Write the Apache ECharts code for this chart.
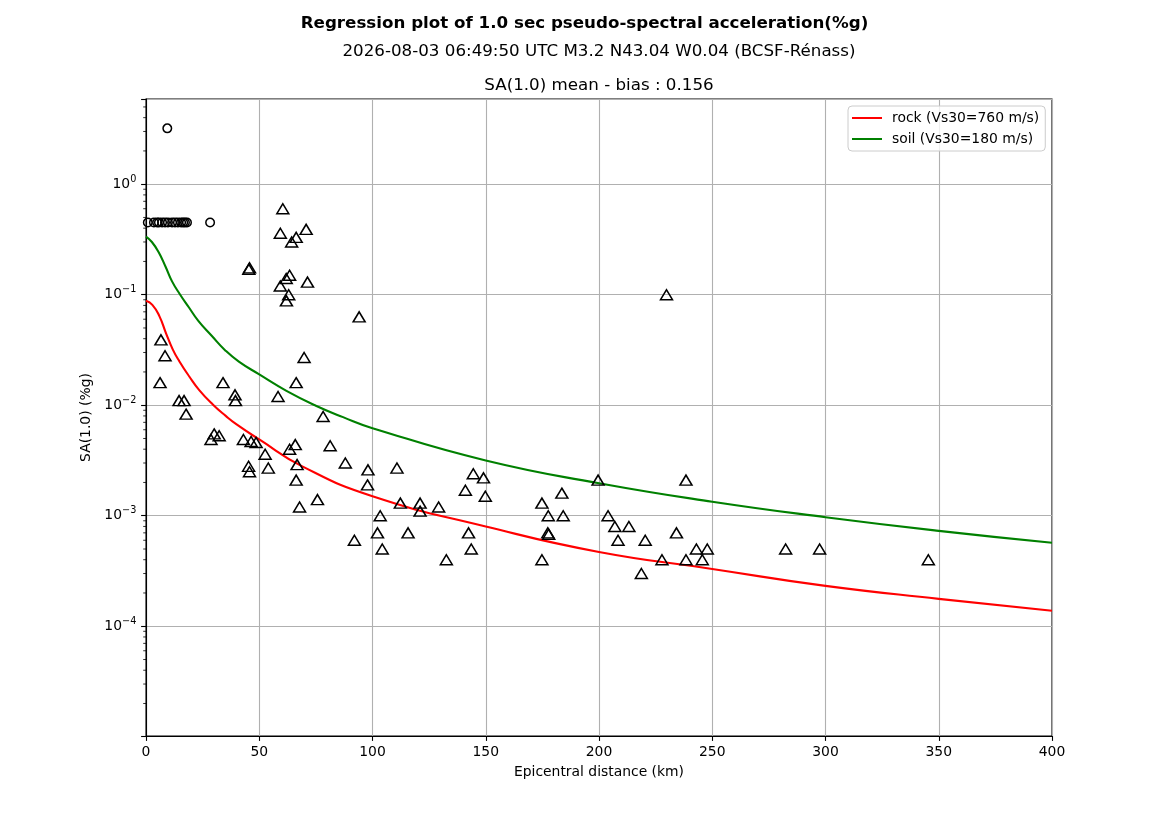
<!DOCTYPE html>
<html lang="en">
<head>
    <meta charset="UTF-8">
    <title>Regression plot SA(1.0)</title>
    <script src="https://cdn.jsdelivr.net/npm/echarts@6/dist/echarts.min.js"></script>
    <style type="text/css">
        html, body { margin: 0; padding: 0; background: #ffffff; }
        #chart { width: 1169px; height: 827px; }
    </style>
</head>
<body>
<div id="chart"></div>
<script>
    // --- data ---
    var xTicks = [0, 50, 100, 150, 200, 250, 300, 350, 400];

    // rock curve (Vs30=760 m/s)
    var rockDist = [0, 2.8, 5.9, 8.8, 11.8, 14.7, 19.1, 23.5, 29.6, 35.2, 40, 50, 69, 100, 150, 200, 250, 300, 350, 400];
    var rockSA = [0.088, 0.081, 0.064, 0.045, 0.032, 0.025, 0.0182, 0.0137, 0.0101, 0.0080, 0.0067, 0.0049, 0.0028, 0.0015, 0.0008, 0.00047, 0.00033, 0.000232, 0.000177, 0.000138];

    // soil curve (Vs30=180 m/s)
    var soilDist = [0, 2.6, 5.6, 8.6, 11.5, 15.1, 18.9, 23.1, 29, 34.9, 41, 50, 62, 75, 87, 100, 150, 200, 250, 300, 350, 400];
    var soilSA = [0.336, 0.30, 0.242, 0.18, 0.132, 0.1, 0.077, 0.058, 0.0425, 0.0315, 0.0248, 0.019, 0.0135, 0.0099, 0.0078, 0.0062, 0.00316, 0.00197, 0.00134, 0.00097, 0.00073, 0.00057];

    // stations, triangles
    var triDist = [6.6, 8.4, 6.2, 14.6, 16.8, 17.7, 34.0, 39.3, 39.5, 28.7, 30.1, 32.3, 43.0, 46.4, 48.6, 45.3, 45.7, 52.6, 54.0,
        45.4, 45.7, 60.4, 59.3, 64.3, 66.3, 70.7, 59.3, 61.9, 63.4, 63.0, 62.0, 71.3, 94.1, 69.8, 66.3, 58.3, 78.2,
        63.4, 65.9, 66.7, 66.3, 67.8, 75.7, 81.3, 88.0, 98.0, 97.8, 110.8, 92.0, 102.2, 103.4, 104.3, 112.3, 115.7,
        121.0, 121.0, 129.2, 132.6, 141.0, 142.4, 143.6, 144.5, 149.0, 149.8, 174.8, 174.8, 177.6, 177.4, 177.8,
        183.6, 184.2, 199.6, 204.0, 207.0, 208.4, 213.2, 218.7, 220.4, 227.8, 229.8, 234.2, 238.4, 238.4, 243.0,
        245.6, 247.8, 282.4, 297.4, 345.4];
    var triSA = [0.039, 0.028, 0.016, 0.011, 0.011, 0.0083, 0.016, 0.0124, 0.011, 0.0049, 0.0055, 0.0053, 0.0049, 0.0047, 0.0046, 0.0028, 0.0025, 0.0036, 0.0027,
        0.17, 0.175, 0.6, 0.36, 0.3, 0.33, 0.39, 0.12, 0.14, 0.15, 0.1, 0.088, 0.13, 0.063, 0.027, 0.016, 0.012, 0.0079,
        0.004, 0.0044, 0.0029, 0.0021, 0.0012, 0.0014, 0.0043, 0.003, 0.0026, 0.0019, 0.0027, 0.0006, 0.0007, 0.001, 0.0005, 0.0013, 0.0007,
        0.0013, 0.0011, 0.0012, 0.0004, 0.0017, 0.0007, 0.0005, 0.0024, 0.0022, 0.0015, 0.0013, 0.0004, 0.001, 0.0007, 0.00068,
        0.0016, 0.001, 0.0021, 0.001, 0.0008, 0.0006, 0.0008, 0.0003, 0.0006, 0.0004, 0.1, 0.0007, 0.0021, 0.0004, 0.0005,
        0.0004, 0.0005, 0.0005, 0.0005, 0.0004];

    // stations, circles
    var circDist = [0.8, 3.5, 4.9, 5.7, 7.1, 8.4, 9.7, 11.5, 12.8, 14.1, 15.5, 16.4, 17.2, 18.1, 28.3, 9.4];
    var circSA = [0.45, 0.45, 0.45, 0.45, 0.45, 0.45, 0.45, 0.45, 0.45, 0.45, 0.45, 0.45, 0.45, 0.45, 0.45, 3.2];

    var yMin = 1.016e-5, yMax = 5.9;

    function pairs(xs, ys) {
        return xs.map(function (x, i) { return [x, ys[i]]; });
    }

    // 10^k labels, exponent drawn raised and smaller
    function powLabel(v) {
        var e = Math.log10(v);
        var r = Math.round(e);
        if (Math.abs(e - r) > 1e-6) return '';
        return '{b|10}{s|' + String(r).replace('-', '\u2212') + '}';
    }

    // minor tick values 2..9 x 10^k on the log axis
    var minorTicks = [];
    for (var k = -5; k <= 0; k++) {
        for (var m = 2; m <= 9; m++) {
            var v = m * Math.pow(10, k);
            if (v > yMin && v < yMax) minorTicks.push([0, v]);
        }
    }

    var font = 'DejaVu Sans';
    var lineIcon = 'path://M0,0 L30,0 L30,2 L0,2 Z';
    var chart = echarts.init(document.getElementById('chart'));

    var option = {
        animation: false,
        backgroundColor: '#ffffff',
        textStyle: { fontFamily: font },
        graphic: [
            { type: 'text', x: 584.5, y: 24, style: { text: 'Regression plot of 1.0 sec pseudo-spectral acceleration(%g)',
                textAlign: 'center', textVerticalAlign: 'middle', font: 'bold 16.7px "DejaVu Sans"', fill: '#000' } },
            { type: 'text', x: 599, y: 52, style: { text: '2026-08-03 06:49:50 UTC M3.2 N43.04 W0.04 (BCSF-Rénass)',
                textAlign: 'center', textVerticalAlign: 'middle', font: '16.7px "DejaVu Sans"', fill: '#000' } },
            { type: 'text', x: 599, y: 86, style: { text: 'SA(1.0) mean - bias : 0.156',
                textAlign: 'center', textVerticalAlign: 'middle', font: '16.7px "DejaVu Sans"', fill: '#000' } }
        ],
        grid: {
            left: 146, right: 117, top: 99, bottom: 91,
            show: true, borderColor: '#000', borderWidth: 1.1,
            containLabel: false
        },
        legend: {
            left: 848, top: 106,
            orient: 'vertical',
            padding: [5, 6, 5, 4],
            itemWidth: 30, itemHeight: 14, itemGap: 7,
            backgroundColor: 'rgba(255,255,255,0.8)',
            borderColor: '#cccccc', borderWidth: 1, borderRadius: 4,
            textStyle: { fontFamily: font, fontSize: 13.9, color: '#000', padding: [0, 0, 0, 5] },
            data: [
                { name: 'rock (Vs30=760 m/s)', icon: lineIcon, itemStyle: { color: '#ff0000' } },
                { name: 'soil (Vs30=180 m/s)', icon: lineIcon, itemStyle: { color: '#008000' } }
            ]
        },
        xAxis: {
            type: 'value',
            min: 0, max: 400, interval: 50,
            name: 'Epicentral distance (km)',
            nameLocation: 'middle', nameGap: 29,
            nameTextStyle: { fontFamily: font, fontSize: 13.9, color: '#000' },
            axisLine: { show: true, onZero: false, lineStyle: { color: '#000', width: 1.1 } },
            axisTick: { show: true, length: 4.9, lineStyle: { color: '#000', width: 1.1 } },
            axisLabel: { margin: 9.7, fontFamily: font, fontSize: 13.9, color: '#000',
                formatter: function (v) { return xTicks.indexOf(v) >= 0 ? String(v) : ''; } },
            splitLine: { show: true, lineStyle: { color: '#b0b0b0', width: 1.1 } }
        },
        yAxis: {
            type: 'log',
            logBase: 10,
            min: yMin, max: yMax,
            name: 'SA(1.0) (%g)',
            nameLocation: 'middle', nameGap: 47, nameRotate: 90,
            nameTextStyle: { fontFamily: font, fontSize: 13.9, color: '#000' },
            axisLine: { show: true, onZero: false, lineStyle: { color: '#000', width: 1.1 } },
            axisTick: { show: true, length: 4.9, lineStyle: { color: '#000', width: 1.1 } },
            axisLabel: { margin: 9.7, color: '#000', formatter: powLabel,
                rich: {
                    b: { fontFamily: font, fontSize: 13.9, color: '#000' },
                    s: { fontFamily: font, fontSize: 9.7, color: '#000', padding: [0, 0, 10, 0] }
                } },
            splitLine: { show: true, lineStyle: { color: '#b0b0b0', width: 1.1 } }
        },
        series: [
            {
                name: 'rock (Vs30=760 m/s)',
                type: 'line',
                data: pairs(rockDist, rockSA),
                symbol: 'none',
                smooth: 0.5,
                lineStyle: { color: '#ff0000', width: 2.1 },
                itemStyle: { color: '#ff0000' },
                z: 3
            },
            {
                name: 'soil (Vs30=180 m/s)',
                type: 'line',
                data: pairs(soilDist, soilSA),
                symbol: 'none',
                smooth: 0.5,
                lineStyle: { color: '#008000', width: 2.1 },
                itemStyle: { color: '#008000' },
                z: 3
            },
            {
                name: 'stations',
                type: 'scatter',
                data: pairs(triDist, triSA),
                symbol: 'triangle',
                symbolSize: [12, 10],
                itemStyle: { color: 'rgba(0,0,0,0)', borderColor: '#000', borderWidth: 1.5, opacity: 1 },
                silent: true,
                z: 4
            },
            {
                name: 'clipped',
                type: 'scatter',
                data: pairs(circDist, circSA),
                symbol: 'circle',
                symbolSize: 8.5,
                itemStyle: { color: 'rgba(0,0,0,0)', borderColor: '#000', borderWidth: 1.5, opacity: 1 },
                silent: true,
                z: 4
            },
            {
                name: 'minor ticks',
                type: 'custom',
                data: minorTicks,
                clip: false,
                silent: true,
                renderItem: function (params, api) {
                    var p = api.coord([0, api.value(1)]);
                    return {
                        type: 'line',
                        shape: { x1: p[0] - 2.8, y1: p[1], x2: p[0], y2: p[1] },
                        style: { stroke: '#000', lineWidth: 0.8 }
                    };
                },
                z: 5
            }
        ]
    };

    chart.setOption(option);
</script>
</body>
</html>
